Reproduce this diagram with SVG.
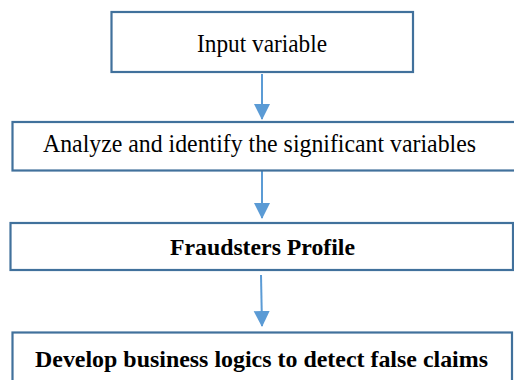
<svg xmlns="http://www.w3.org/2000/svg" width="514" height="380" viewBox="0 0 514 380">
<style>
.box{fill:#ffffff;stroke:#41719C;stroke-width:2.2}
.lbl{font-family:"Liberation Serif","Times New Roman",serif;font-size:25px;fill:#000000;text-anchor:middle}
.b{font-weight:bold;font-size:24px}
.conn{stroke:#5B9BD5;stroke-width:2;fill:none}
</style>
<defs>
<marker id="ah" markerUnits="userSpaceOnUse" markerWidth="16" markerHeight="17" refX="15" refY="8" orient="auto">
<polygon points="0,0 16,8 0,16" fill="#5B9BD5"/>
</marker>
</defs>
<rect width="514" height="380" fill="#ffffff"/>
<g id="connectors">
<line class="conn" x1="262" y1="74" x2="262" y2="119" marker-end="url(#ah)"/>
<line class="conn" x1="262" y1="171" x2="262" y2="218" marker-end="url(#ah)"/>
<line class="conn" x1="261" y1="275" x2="262" y2="326" marker-end="url(#ah)"/>
</g>
<g id="node1">
<rect class="box" x="111.5" y="12" width="301.5" height="60"/>
<text class="lbl" x="262" y="52" textLength="130" lengthAdjust="spacingAndGlyphs">Input variable</text>
</g>
<g id="node2">
<rect class="box" x="12.5" y="122" width="510" height="48.5"/>
<text class="lbl" x="259.5" y="152" textLength="433" lengthAdjust="spacingAndGlyphs">Analyze and identify  the significant  variables</text>
</g>
<g id="node3">
<rect class="box" x="10.5" y="223" width="502.5" height="47"/>
<text class="lbl b" x="262.5" y="255" textLength="185" lengthAdjust="spacingAndGlyphs">Fraudsters Profile</text>
</g>
<g id="node4">
<rect class="box" x="12.5" y="332.5" width="499.5" height="60"/>
<text class="lbl b" x="261.5" y="367" textLength="453" lengthAdjust="spacingAndGlyphs">Develop business logics to detect false claims</text>
</g>
</svg>
